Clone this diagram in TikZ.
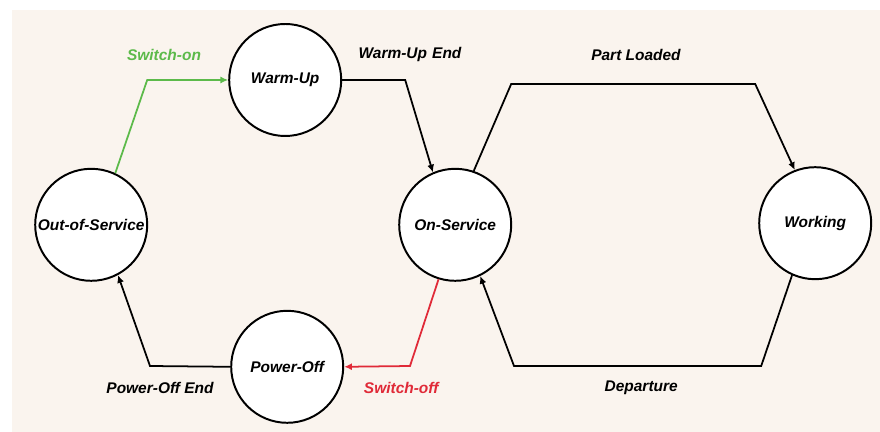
\documentclass[tikz,border=0pt]{standalone}
\usepackage{fontspec}
\setmainfont{Liberation Sans}
\usepackage{tikz}
\usetikzlibrary{arrows.meta,positioning}
\definecolor{bgcol}{HTML}{FAF4EE}
\definecolor{oncol}{HTML}{5CBA4A}
\definecolor{offcol}{HTML}{E02A38}
\tikzset{state/.style={circle,draw,fill=white,line width=1.4pt,minimum size=2.8cm,inner sep=0pt,font=\fontsize{11}{13}\selectfont\bfseries\itshape},
  lbl/.style={inner sep=1pt,font=\fontsize{11}{13}\selectfont\bfseries\itshape},
  tr/.style={line width=1.25pt,-{Latex[length=5.5pt,width=5pt]}}}

\begin{document}
\begin{tikzpicture}
  \useasboundingbox (0,0) rectangle (22,10.8);
  \fill[bgcol] (0.3,0) rectangle (22,10.55);
  \node[state] (oos) at (2.28,5.18) {Out-of-Service};
  \node[state] (wu) at (7.13,8.8) {Warm-Up};
  \node[state] (on) at (11.38,5.18) {On-Service};
  \node[state] (wk) at (20.38,5.22) {Working};
  \node[state] (po) at (7.18,1.63) {Power-Off};
  \node[lbl,text=oncol] (l1) at (4.1,9.43) {Switch-on};
  \node[lbl] (l2) at (10.25,9.43) {Warm-Up\,\,End};
  \node[lbl] (l3) at (15.9,9.43) {Part Loaded};
  \node[lbl] (l4) at (4.0,1.1) {Power-Off End};
  \node[lbl,text=offcol] (l5) at (10.03,1.1) {Switch-off};
  \node[lbl] (l6) at (16.03,1.1) {Departure};
  \draw[tr,oncol] (oos.65) -- (3.68,8.8) -- (wu.west);
  \draw[tr] (wu.east) -- (10.13,8.8) -- (on.113);
  \draw[tr] (on.71) -- (12.78,8.7) -- (18.88,8.7) -- (wk.111);
  \draw[tr] (wk.246) -- (19.03,1.65) -- (12.85,1.65) -- (on.296);
  \draw[tr,offcol] (on.253) -- (10.25,1.65) -- (po.east);
  \draw[tr] (po.west) -- (3.75,1.65) -- (oos.298);
\end{tikzpicture}
\end{document}
